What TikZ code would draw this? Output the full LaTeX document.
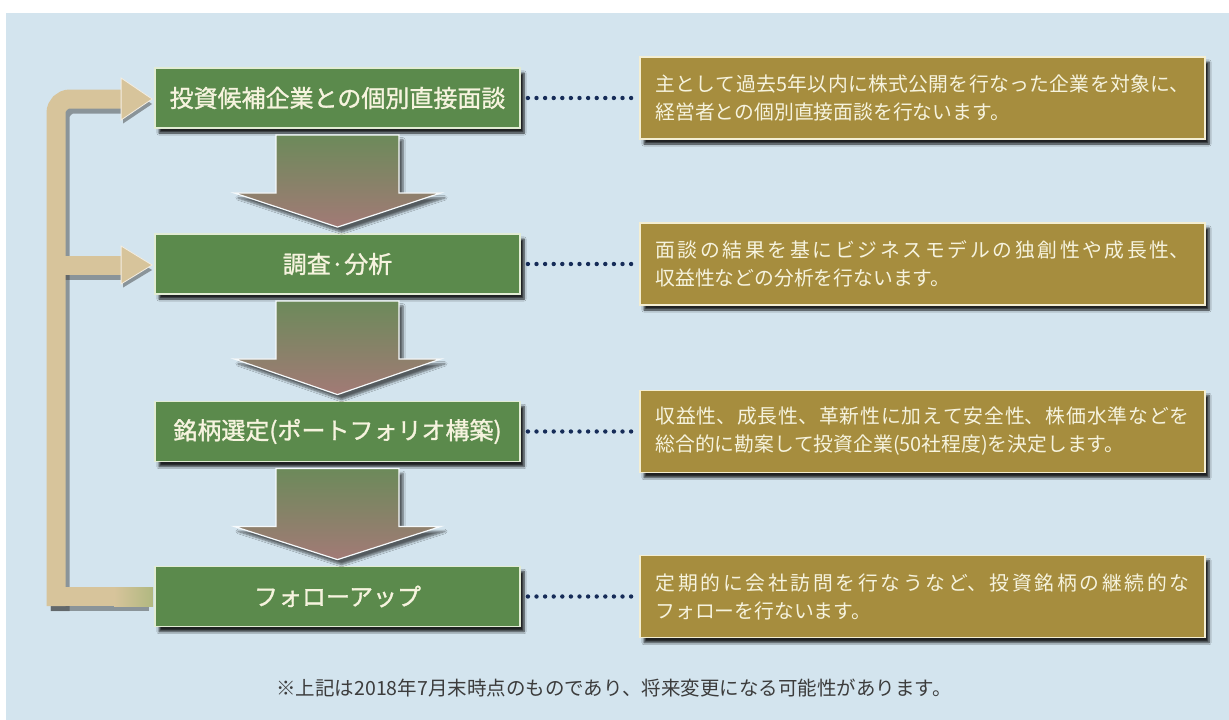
\documentclass[tikz,border=0pt]{standalone}
\usepackage{fontspec}
\setmainfont{Noto Sans CJK JP}
\newfontfamily\jpbold{Noto Sans CJK JP}[FakeBold=1.2]
\usetikzlibrary{calc,shadows.blur}
\XeTeXlinebreaklocale "ja"
\XeTeXlinebreakskip=0pt plus 6pt

\definecolor{bgblue}{RGB}{211,228,238}
\definecolor{boxgreen}{RGB}{91,138,76}
\definecolor{greenborder}{RGB}{226,236,212}
\definecolor{boxgold}{RGB}{166,141,62}
\definecolor{goldborder}{RGB}{244,238,210}
\definecolor{cream}{RGB}{246,243,222}
\definecolor{looptan}{RGB}{215,196,155}
\definecolor{tangreen}{RGB}{176,184,128}
\definecolor{dotnavy}{RGB}{22,44,88}
\definecolor{notegray}{RGB}{60,60,60}
\definecolor{arrowtop}{RGB}{108,138,90}
\definecolor{arrowbot}{RGB}{162,122,118}

\tikzset{
  stepbox/.style={draw=greenborder, line width=1.8pt, fill=boxgreen,
    minimum width=365pt, minimum height=60pt, inner sep=0pt, text=cream,
    font=\jpbold\fontsize{24}{28}\selectfont,
    blur shadow={shadow xshift=4pt, shadow yshift=-5pt, shadow blur steps=6, shadow opacity=85}},
  notebox/.style={draw=goldborder, line width=1.8pt, fill=boxgold,
    text width=534pt, inner xsep=15.5pt, inner ysep=0pt, minimum height=82pt,
    align=justify, text=cream, font=\fontsize{19.8}{28}\selectfont,
    blur shadow={shadow xshift=4pt, shadow yshift=-5pt, shadow blur steps=6, shadow opacity=85}},
  dotline/.style={draw=dotnavy, line width=4.4pt, line cap=round, dash pattern=on 0pt off 8.6pt},
  downarrow/.style={top color=arrowtop, bottom color=arrowbot, draw=white!80!bgblue, line width=1.2pt,
    line join=miter,
    blur shadow={shadow xshift=4pt, shadow yshift=-5pt, shadow blur steps=6, shadow opacity=60}},
  loopline/.style={draw=looptan, line width=19pt},
  loopshadow/.style={draw=black!80, line width=19pt, opacity=0.45},
  loophead/.style={fill=looptan, draw=white!70!looptan, line width=0.8pt},
}

\begin{document}
\begin{tikzpicture}[x=1pt,y=-1pt]
\useasboundingbox (0,0) rectangle (1229,720);
\fill[white] (0,0) rectangle (1229,720);
\fill[bgblue] (6,13) rectangle (1229,720);

% step boxes
\node[stepbox] (g1) at (337.5,98) {投資候補企業との個別直接面談};
\node[stepbox] (g2) at (337.5,264) {調査·分析};
\node[stepbox] (g3) at (337.5,431.5) {銘柄選定(ポートフォリオ構築)};
\node[stepbox] (g4) at (337.5,596.5) {フォローアップ};

% note boxes
\node[notebox] (r1) at (922.5,98) {主として過去5年以内に株式公開を行なった企業を対象に、\linebreak 経営者との個別直接面談を行ないます。};
\node[notebox] (r2) at (922.5,264) {面談の結果を基にビジネスモデルの独創性や成長性、\linebreak 収益性などの分析を行ないます。};
\node[notebox] (r3) at (922.5,431.5) {収益性、成長性、革新性に加えて安全性、株価水準などを\linebreak 総合的に勘案して投資企業(50社程度)を決定します。};
\node[notebox] (r4) at (922.5,596.5) {定期的に会社訪問を行なうなど、投資銘柄の継続的な\linebreak フォローを行ないます。};

% down arrows
\foreach \a/\b in {g1/g2,g2/g3,g3/g4}{
  \path[downarrow] ($(\a.south)+(-61.5,6)$) -- ($(\a.south)+(61.5,6)$) -- ($(\a.south)+(61.5,64)$)
    -- ($(\a.south)+(103.5,64)$) -- ($(\b.north)+(0,-6)$) -- ($(\a.south)+(-103.5,64)$)
    -- ($(\a.south)+(-61.5,64)$) -- cycle;
}

% dotted connectors
\foreach \i in {1,2,3,4}{
  \draw[dotline] ([xshift=7pt]g\i.east) -- ([xshift=-6pt]r\i.west);
}

% feedback loop: shadow
\coordinate (lx) at (56,0);
\coordinate (sh) at (4,5);
\draw[loopshadow] ($(g4.west)+(-5,5)$) -- ($(g4.west -| lx)+(sh)+(-9.5,0)$);
\draw[loopshadow, rounded corners=14pt] ($(g4.west -| lx)+(sh)+(0,9.5)$) -- ($(g1.west -| lx)+(sh)+(0,1)$) -- ($(g1.west)+(sh)+(-35,1)$);
\draw[loopshadow] ($(g2.west -| lx)+(sh)+(0,1)$) -- ($(g2.west)+(sh)+(-35,1)$);
\fill[black!80, opacity=0.45] ($(g1.west)+(sh)+(-6,1)$) -- ++(-29,-19.5) -- ++(0,39) -- cycle;
\fill[black!80, opacity=0.45] ($(g2.west)+(sh)+(-6,1)$) -- ++(-29,-17.5) -- ++(0,35) -- cycle;
% feedback loop
\draw[loopline] ([xshift=-1pt]g4.west) -- ($(g4.west -| lx)+(-9.5,0)$);
\shade[left color=looptan, right color=tangreen] ($(g4.west)+(-40,-9.5)$) rectangle ($(g4.west)+(-1,9.5)$);
\draw[loopline, rounded corners=14pt] ($(g4.west -| lx)+(0,9.5)$) -- ($(g1.west -| lx)+(0,1)$) -- ($(g1.west)+(-31,1)$);
\draw[loopline] ($(g2.west -| lx)+(0,1)$) -- ($(g2.west)+(-31,1)$);
\fill[loophead] ($(g1.west)+(-2,1)$) -- ++(-31,-21) -- ++(0,42) -- cycle;
\fill[loophead] ($(g2.west)+(-2,1)$) -- ++(-31,-19) -- ++(0,38) -- cycle;

% footnote
\node[font=\fontsize{19.5}{22}\selectfont, text=notegray] (fn) at (614,688)
  {※上記は2018年7月末時点のものであり、将来変更になる可能性があります。};
\end{tikzpicture}
\end{document}
